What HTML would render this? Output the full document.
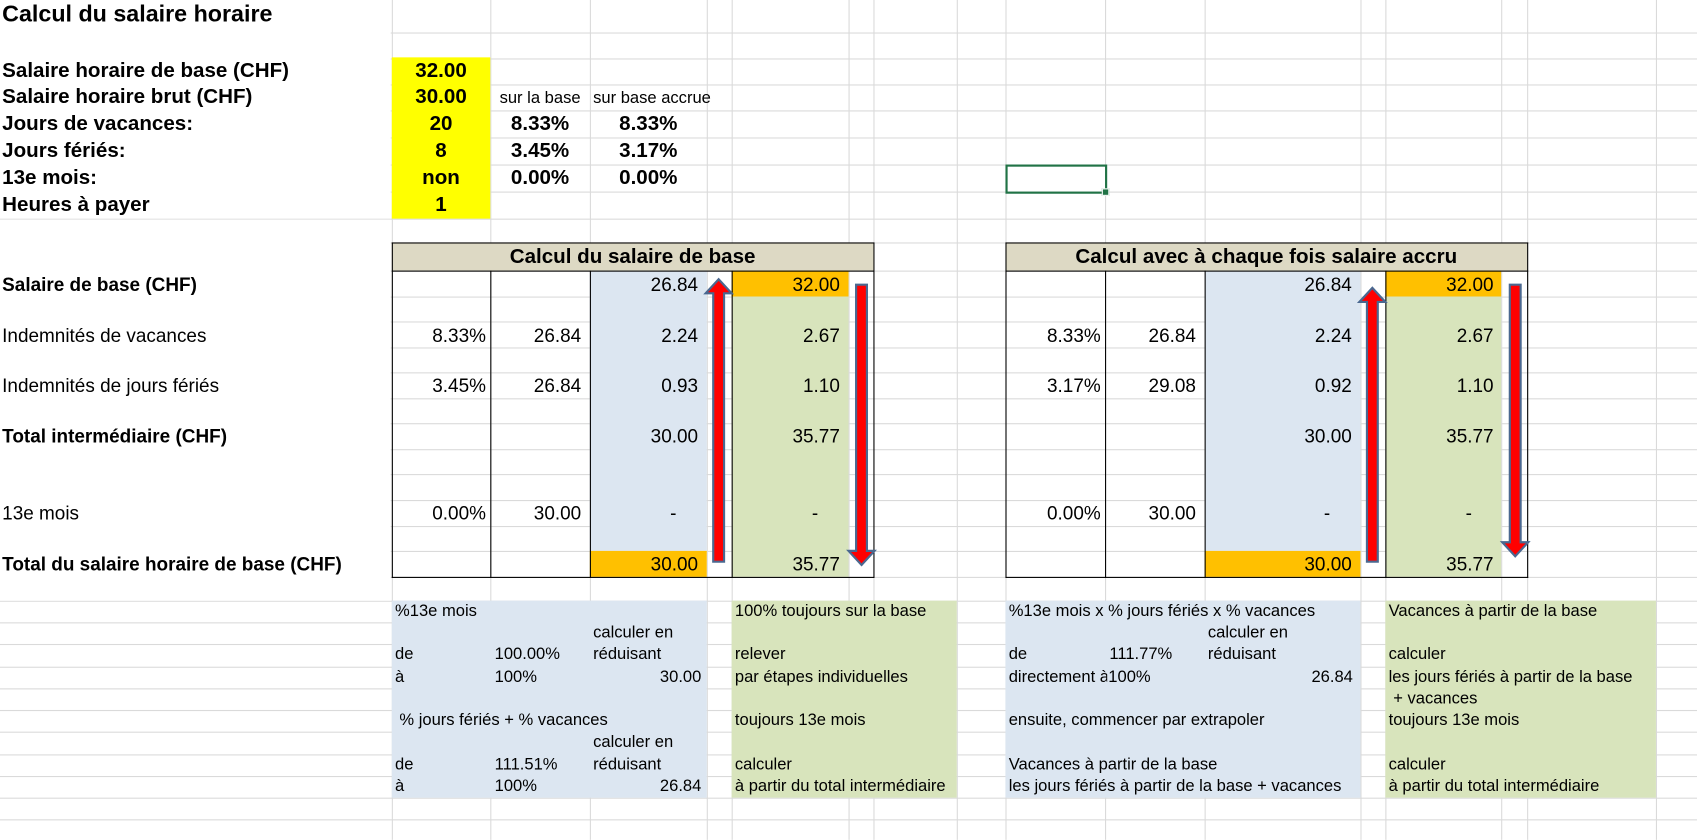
<!DOCTYPE html>
<html><head><meta charset="utf-8">
<style>
html,body{margin:0;padding:0;background:#fff;overflow:hidden;width:1697px;height:839px}
#w{position:absolute;left:0;top:0;width:1568px;height:776px;transform:scale(1.0823);transform-origin:0 0;font-family:"Liberation Sans",Arial,sans-serif;color:#000}
.h{position:absolute;left:0;width:1568px;height:1px;background:#dadada}
.v{position:absolute;top:0;width:1px;height:776px;background:#dadada}
.f{position:absolute}
.t{position:absolute;white-space:nowrap;line-height:20px}
.b{font-weight:bold}
.r{text-align:right}
.c{text-align:center}
.n{font-size:17.5px}
.s{font-size:15.3px}
.L{font-size:19px}
.k{position:absolute;background:#000}
</style></head><body><div id="w">
<!-- gridlines -->
<div class="v" style="left:362px"></div><div class="v" style="left:453px"></div><div class="v" style="left:545px"></div><div class="v" style="left:653px"></div><div class="v" style="left:676px"></div><div class="v" style="left:784px"></div><div class="v" style="left:807px"></div><div class="v" style="left:884px"></div><div class="v" style="left:929px"></div><div class="v" style="left:1021px"></div><div class="v" style="left:1113px"></div><div class="v" style="left:1257px"></div><div class="v" style="left:1280px"></div><div class="v" style="left:1387px"></div><div class="v" style="left:1411px"></div><div class="v" style="left:1530px"></div>
<div class="h" style="top:30px"></div><div class="h" style="top:54px"></div><div class="h" style="top:78px"></div><div class="h" style="top:102px"></div><div class="h" style="top:127px"></div><div class="h" style="top:152px"></div><div class="h" style="top:177px"></div><div class="h" style="top:202px"></div><div class="h" style="top:224px"></div><div class="h" style="top:250px"></div><div class="h" style="top:274px"></div><div class="h" style="top:297px"></div><div class="h" style="top:321px"></div><div class="h" style="top:344px"></div><div class="h" style="top:368px"></div><div class="h" style="top:391px"></div><div class="h" style="top:415px"></div><div class="h" style="top:438px"></div><div class="h" style="top:462px"></div><div class="h" style="top:486px"></div><div class="h" style="top:509px"></div><div class="h" style="top:533px"></div><div class="h" style="top:555px"></div><div class="h" style="top:575px"></div><div class="h" style="top:595px"></div><div class="h" style="top:616px"></div><div class="h" style="top:636px"></div><div class="h" style="top:656px"></div><div class="h" style="top:676px"></div><div class="h" style="top:697px"></div><div class="h" style="top:717px"></div><div class="h" style="top:737px"></div><div class="h" style="top:757px"></div>
<!-- fills -->
<div class="f" style="left:0;top:0;width:361px;height:202px;background:#fff"></div>
<div class="f" style="left:0;top:203px;width:361px;height:352px;background:#fff"></div>
<div class="f" style="left:362px;top:53px;width:91px;height:149px;background:#ffff00"></div>
<div class="f" style="left:362px;top:224px;width:445px;height:26px;background:#ddd9c4"></div>
<div class="f" style="left:929px;top:224px;width:482px;height:26px;background:#ddd9c4"></div>
<div class="f" style="left:545px;top:250px;width:108px;height:259px;background:#dce6f1"></div>
<div class="f" style="left:545px;top:509px;width:108px;height:24px;background:#ffc000"></div>
<div class="f" style="left:676px;top:250px;width:108px;height:24px;background:#ffc000"></div>
<div class="f" style="left:676px;top:274px;width:108px;height:259px;background:#d8e4bc"></div>
<div class="f" style="left:1113px;top:250px;width:144px;height:259px;background:#dce6f1"></div>
<div class="f" style="left:1113px;top:509px;width:144px;height:24px;background:#ffc000"></div>
<div class="f" style="left:1280px;top:250px;width:107px;height:24px;background:#ffc000"></div>
<div class="f" style="left:1280px;top:274px;width:107px;height:259px;background:#d8e4bc"></div>
<div class="f" style="left:362px;top:555px;width:291px;height:182px;background:#dce6f1"></div>
<div class="f" style="left:676px;top:555px;width:208px;height:182px;background:#d8e4bc"></div>
<div class="f" style="left:929px;top:555px;width:328px;height:182px;background:#dce6f1"></div>
<div class="f" style="left:1280px;top:555px;width:250px;height:182px;background:#d8e4bc"></div>
<!-- table borders -->
<div class="k" style="left:362px;top:224px;width:446px;height:1px"></div>
<div class="k" style="left:362px;top:250px;width:446px;height:1px"></div>
<div class="k" style="left:362px;top:533px;width:446px;height:1px"></div>
<div class="k" style="left:362px;top:224px;width:1px;height:310px"></div>
<div class="k" style="left:807px;top:224px;width:1px;height:310px"></div>
<div class="k" style="left:453px;top:250px;width:1px;height:284px"></div>
<div class="k" style="left:545px;top:250px;width:1px;height:284px"></div>
<div class="k" style="left:676px;top:250px;width:1px;height:284px"></div>
<div class="k" style="left:929px;top:224px;width:483px;height:1px"></div>
<div class="k" style="left:929px;top:250px;width:483px;height:1px"></div>
<div class="k" style="left:929px;top:533px;width:483px;height:1px"></div>
<div class="k" style="left:929px;top:224px;width:1px;height:310px"></div>
<div class="k" style="left:1411px;top:224px;width:1px;height:310px"></div>
<div class="k" style="left:1021px;top:250px;width:1px;height:284px"></div>
<div class="k" style="left:1113px;top:250px;width:1px;height:284px"></div>
<div class="k" style="left:1280px;top:250px;width:1px;height:284px"></div>
<!-- selection -->
<div class="f" style="left:929px;top:152px;width:90px;height:23px;border:2px solid #217346"></div>
<div class="f" style="left:1018px;top:174px;width:5px;height:5px;background:#217346;border:1px solid #fff"></div>
<!-- arrows -->
<svg class="f" style="left:0;top:0" width="1568" height="776">
<g fill="#ff0000" stroke="#4a6890" stroke-width="2">
<polygon points="664,258 676,271 669,271 669,519 659,519 659,271 652,271"/>
<polygon points="796,522 808,509 801,509 801,263 791,263 791,509 784,509"/>
<polygon points="1268,266 1280,279 1273,279 1273,519 1263,519 1263,279 1256,279"/>
<polygon points="1400,514 1412,501 1405,501 1405,263 1395,263 1395,501 1388,501"/>
</g></svg>
<!-- texts top -->
<div class="t b" style="left:2px;top:2px;font-size:21.5px;line-height:22px">Calcul du salaire horaire</div>
<div class="t b L" style="left:2px;top:56px">Salaire horaire de base (CHF)</div>
<div class="t b L" style="left:2px;top:80px">Salaire horaire brut (CHF)</div>
<div class="t b L" style="left:2px;top:105px">Jours de vacances:</div>
<div class="t b L" style="left:2px;top:130px">Jours fériés:</div>
<div class="t b L" style="left:2px;top:155px">13e mois:</div>
<div class="t b L" style="left:2px;top:180px">Heures à payer</div>
<div class="t b c L" style="left:362px;width:91px;top:56px">32.00</div>
<div class="t b c L" style="left:362px;width:91px;top:80px">30.00</div>
<div class="t b c L" style="left:362px;width:91px;top:105px">20</div>
<div class="t b c L" style="left:362px;width:91px;top:130px">8</div>
<div class="t b c L" style="left:362px;width:91px;top:155px">non</div>
<div class="t b c L" style="left:362px;width:91px;top:180px">1</div>
<div class="t c s" style="left:453px;width:92px;top:81px">sur la base</div>
<div class="t s" style="left:548px;top:81px">sur base accrue</div>
<div class="t b c L" style="left:453px;width:92px;top:105px">8.33%</div>
<div class="t b c L" style="left:545px;width:108px;top:105px">8.33%</div>
<div class="t b c L" style="left:453px;width:92px;top:130px">3.45%</div>
<div class="t b c L" style="left:545px;width:108px;top:130px">3.17%</div>
<div class="t b c L" style="left:453px;width:92px;top:155px">0.00%</div>
<div class="t b c L" style="left:545px;width:108px;top:155px">0.00%</div>
<!-- headers -->
<div class="t b c L" style="left:362px;width:445px;top:228px">Calcul du salaire de base</div>
<div class="t b c L" style="left:929px;width:482px;top:228px">Calcul avec à chaque fois salaire accru</div>
<!-- row labels -->
<div class="t b n" style="left:2px;top:253px">Salaire de base (CHF)</div>
<div class="t n" style="left:2px;top:300px">Indemnités de vacances</div>
<div class="t n" style="left:2px;top:346px">Indemnités de jours fériés</div>
<div class="t b n" style="left:2px;top:393px">Total intermédiaire (CHF)</div>
<div class="t n" style="left:2px;top:464px">13e mois</div>
<div class="t b n" style="left:2px;top:511px">Total du salaire horaire de base (CHF)</div>
<!-- left table values -->
<div class="t n r" style="left:362px;width:87px;top:300px">8.33%</div>
<div class="t n r" style="left:362px;width:87px;top:346px">3.45%</div>
<div class="t n r" style="left:362px;width:87px;top:464px">0.00%</div>
<div class="t n r" style="left:453px;width:84px;top:300px">26.84</div>
<div class="t n r" style="left:453px;width:84px;top:346px">26.84</div>
<div class="t n r" style="left:453px;width:84px;top:464px">30.00</div>
<div class="t n r" style="left:545px;width:100px;top:253px">26.84</div>
<div class="t n r" style="left:545px;width:100px;top:300px">2.24</div>
<div class="t n r" style="left:545px;width:100px;top:346px">0.93</div>
<div class="t n r" style="left:545px;width:100px;top:393px">30.00</div>
<div class="t n r" style="left:545px;width:80px;top:464px">-</div>
<div class="t n r" style="left:545px;width:100px;top:511px">30.00</div>
<div class="t n r" style="left:676px;width:100px;top:253px">32.00</div>
<div class="t n r" style="left:676px;width:100px;top:300px">2.67</div>
<div class="t n r" style="left:676px;width:100px;top:346px">1.10</div>
<div class="t n r" style="left:676px;width:100px;top:393px">35.77</div>
<div class="t n r" style="left:676px;width:80px;top:464px">-</div>
<div class="t n r" style="left:676px;width:100px;top:511px">35.77</div>
<!-- right table values -->
<div class="t n r" style="left:929px;width:88px;top:300px">8.33%</div>
<div class="t n r" style="left:929px;width:88px;top:346px">3.17%</div>
<div class="t n r" style="left:929px;width:88px;top:464px">0.00%</div>
<div class="t n r" style="left:1021px;width:84px;top:300px">26.84</div>
<div class="t n r" style="left:1021px;width:84px;top:346px">29.08</div>
<div class="t n r" style="left:1021px;width:84px;top:464px">30.00</div>
<div class="t n r" style="left:1113px;width:136px;top:253px">26.84</div>
<div class="t n r" style="left:1113px;width:136px;top:300px">2.24</div>
<div class="t n r" style="left:1113px;width:136px;top:346px">0.92</div>
<div class="t n r" style="left:1113px;width:136px;top:393px">30.00</div>
<div class="t n r" style="left:1113px;width:116px;top:464px">-</div>
<div class="t n r" style="left:1113px;width:136px;top:511px">30.00</div>
<div class="t n r" style="left:1280px;width:100px;top:253px">32.00</div>
<div class="t n r" style="left:1280px;width:100px;top:300px">2.67</div>
<div class="t n r" style="left:1280px;width:100px;top:346px">1.10</div>
<div class="t n r" style="left:1280px;width:100px;top:393px">35.77</div>
<div class="t n r" style="left:1280px;width:80px;top:464px">-</div>
<div class="t n r" style="left:1280px;width:100px;top:511px">35.77</div>
<!-- notes left -->
<div class="t s" style="left:365px;top:555px">%13e mois</div>
<div class="t s" style="left:548px;top:575px">calculer en</div>
<div class="t s" style="left:365px;top:595px">de</div>
<div class="t s" style="left:457px;top:595px">100.00%</div>
<div class="t s" style="left:548px;top:595px">réduisant</div>
<div class="t s" style="left:365px;top:616px">à</div>
<div class="t s" style="left:457px;top:616px">100%</div>
<div class="t s r" style="left:545px;width:103px;top:616px">30.00</div>
<div class="t s" style="left:369px;top:656px">% jours fériés + % vacances</div>
<div class="t s" style="left:548px;top:676px">calculer en</div>
<div class="t s" style="left:365px;top:697px">de</div>
<div class="t s" style="left:457px;top:697px">111.51%</div>
<div class="t s" style="left:548px;top:697px">réduisant</div>
<div class="t s" style="left:365px;top:717px">à</div>
<div class="t s" style="left:457px;top:717px">100%</div>
<div class="t s r" style="left:545px;width:103px;top:717px">26.84</div>
<div class="t s" style="left:679px;top:555px">100% toujours sur la base</div>
<div class="t s" style="left:679px;top:595px">relever</div>
<div class="t s" style="left:679px;top:616px">par étapes individuelles</div>
<div class="t s" style="left:679px;top:656px">toujours 13e mois</div>
<div class="t s" style="left:679px;top:697px">calculer</div>
<div class="t s" style="left:679px;top:717px">à partir du total intermédiaire</div>
<!-- notes right -->
<div class="t s" style="left:932px;top:555px">%13e mois x % jours fériés x % vacances</div>
<div class="t s" style="left:1116px;top:575px">calculer en</div>
<div class="t s" style="left:932px;top:595px">de</div>
<div class="t s" style="left:1025px;top:595px">111.77%</div>
<div class="t s" style="left:1116px;top:595px">réduisant</div>
<div class="t s" style="left:932px;top:616px;width:91px;overflow:hidden">directement à</div>
<div class="t s" style="left:1024px;top:616px">100%</div>
<div class="t s r" style="left:1113px;width:137px;top:616px">26.84</div>
<div class="t s" style="left:932px;top:656px">ensuite, commencer par extrapoler</div>
<div class="t s" style="left:932px;top:697px">Vacances à partir de la base</div>
<div class="t s" style="left:932px;top:717px">les jours fériés à partir de la base + vacances</div>
<div class="t s" style="left:1283px;top:555px">Vacances à partir de la base</div>
<div class="t s" style="left:1283px;top:595px">calculer</div>
<div class="t s" style="left:1283px;top:616px">les jours fériés à partir de la base</div>
<div class="t s" style="left:1283px;top:636px">&nbsp;+ vacances</div>
<div class="t s" style="left:1283px;top:656px">toujours 13e mois</div>
<div class="t s" style="left:1283px;top:697px">calculer</div>
<div class="t s" style="left:1283px;top:717px">à partir du total intermédiaire</div>
</div></body></html>
